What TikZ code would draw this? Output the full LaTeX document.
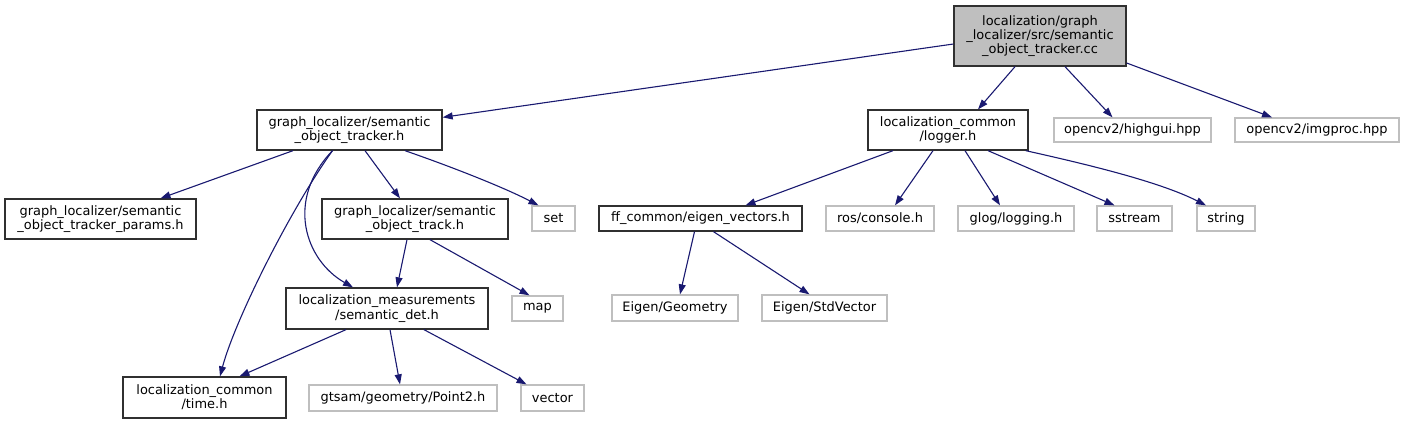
\documentclass[tikz,border=0pt]{standalone}
\usepackage{fontspec}
\setmainfont{DejaVu Sans}
\usetikzlibrary{arrows.meta}
\definecolor{edgeblue}{HTML}{191970}
\definecolor{leafgray}{HTML}{BFBFBF}
\definecolor{rootfill}{HTML}{BFBFBF}
\definecolor{boxline}{HTML}{303030}
\begin{document}
\begin{tikzpicture}[x=1pt,y=-1pt,
  every node/.style={font=\fontsize{12.95}{14.2}\selectfont, inner sep=0pt, align=center},
  incbox/.style={draw=boxline, line width=1.3pt, fill=white},
  rootbox/.style={draw=boxline, line width=1.3pt, fill=rootfill},
  leafbox/.style={draw=leafgray, line width=1.3pt, fill=white},
  edge/.style={draw=edgeblue, line width=1.1pt, -{Triangle[length=10pt,width=7pt]}, fill=none},
  sz/.style 2 args={minimum width=#1pt, minimum height=#2pt}
]
\useasboundingbox (0,0) rectangle (1403,424);
% nodes
\node[rootbox, sz={172}{60}] (root) at (1040,36) {localization/graph\\\_localizer/src/semantic\\\_object\_tracker.cc};
\node[incbox, sz={185}{40}] (tracker) at (349.5,130) {graph\_localizer/semantic\\\_object\_tracker.h};
\node[incbox, sz={160}{40}] (logger) at (948,130) {localization\_common\\/logger.h};
\node[leafbox, sz={157}{24}] (highgui) at (1132.5,130) {opencv2/highgui.hpp};
\node[leafbox, sz={164}{24}] (imgproc) at (1317,130) {opencv2/imgproc.hpp};
\node[incbox, sz={191}{40}] (params) at (100.5,219) {graph\_localizer/semantic\\\_object\_tracker\_params.h};
\node[incbox, sz={186}{40}] (track) at (415,219) {graph\_localizer/semantic\\\_object\_track.h};
\node[leafbox, sz={43}{25}] (set) at (553.5,218.5) {set};
\node[incbox, sz={203}{25}] (eigvec) at (700.5,218.5) {ff\_common/eigen\_vectors.h};
\node[leafbox, sz={108}{25}] (ros) at (880,218.5) {ros/console.h};
\node[leafbox, sz={116}{25}] (glog) at (1016,218.5) {glog/logging.h};
\node[leafbox, sz={75}{25}] (sstream) at (1134.5,218.5) {sstream};
\node[leafbox, sz={58}{25}] (string) at (1226,218.5) {string};
\node[incbox, sz={202}{41}] (det) at (387,308.5) {localization\_measurements\\/semantic\_det.h};
\node[leafbox, sz={51}{25}] (map) at (537.5,308.5) {map};
\node[leafbox, sz={126}{26}] (geom) at (675,308) {Eigen/Geometry};
\node[leafbox, sz={125}{26}] (stdvec) at (824.5,308) {Eigen/StdVector};
\node[incbox, sz={163}{41}] (time) at (204.5,397.5) {localization\_common\\/time.h};
\node[leafbox, sz={188}{26}] (point2) at (403,398) {gtsam/geometry/Point2.h};
\node[leafbox, sz={63}{26}] (vector) at (552.5,398) {vector};
% edges
\draw[edge] ([yshift=-8pt]root.west) -- ([yshift=-8pt]tracker.north east);
\draw[edge] ([xshift=-25pt]root.south) -- ([xshift=30pt]logger.north);
\draw[edge] ([xshift=25pt]root.south) -- ([xshift=-20pt]highgui.north);
\draw[edge] ([yshift=-27pt]root.east) -- ([xshift=-45pt]imgproc.north);
\draw[edge] ([xshift=-56.5pt]tracker.south) -- ([xshift=60pt]params.north);
\draw[edge] ([xshift=15.5pt]tracker.south) -- ([xshift=-15pt]track.north);
\draw[edge] ([xshift=55.5pt]tracker.south) .. controls (455,168) and (505,188) .. ([xshift=-15pt]set.north);
\draw[edge] ([xshift=-17pt]tracker.south) .. controls (285,200) and (305,260) .. ([xshift=-34pt]det.north);
\draw[edge] ([xshift=-17pt]tracker.south) .. controls (290,210) and (235,320) .. ([xshift=15.5pt]time.north);
\draw[edge] ([xshift=-8pt]track.south) -- ([xshift=10pt]det.north);
\draw[edge] ([xshift=15pt]track.south) -- ([xshift=-8pt]map.north);
\draw[edge] ([xshift=-41pt]det.south) -- ([xshift=35pt]time.north);
\draw[edge] ([xshift=3pt]det.south) -- ([xshift=-3pt]point2.north);
\draw[edge] ([xshift=37pt]det.south) -- ([xshift=-26pt]vector.north);
\draw[edge] ([xshift=-55pt]logger.south) -- ([xshift=45pt]eigvec.north);
\draw[edge] ([xshift=-15pt]logger.south) -- ([xshift=15pt]ros.north);
\draw[edge] ([xshift=17pt]logger.south) -- ([xshift=-16pt]glog.north);
\draw[edge] ([xshift=40pt]logger.south) -- ([xshift=-20pt]sstream.north);
\draw[edge] ([xshift=-3pt]logger.south east) .. controls (1090,165) and (1160,182) .. ([xshift=-20pt]string.north);
\draw[edge] ([xshift=-6pt]eigvec.south) -- ([xshift=5pt]geom.north);
\draw[edge] ([xshift=13pt]eigvec.south) -- ([xshift=-15pt]stdvec.north);
\end{tikzpicture}
\end{document}
